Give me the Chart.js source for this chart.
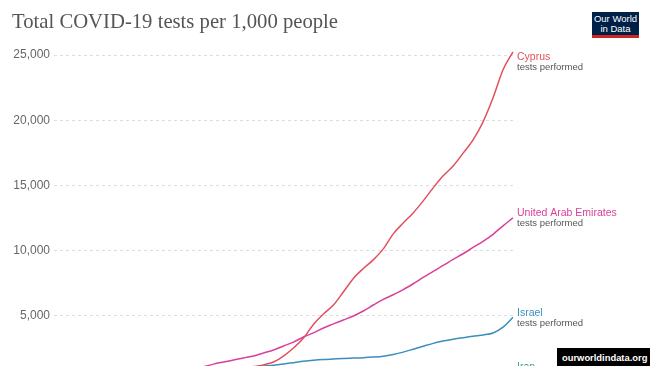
<!DOCTYPE html>
<html><head><meta charset="utf-8">
<script src="https://cdn.jsdelivr.net/npm/chart.js@4"></script>
<style>
html,body{margin:0;padding:0;background:#fff;width:650px;height:366px;overflow:hidden;}
#wrap{position:relative;width:650px;height:366px;}
canvas{position:absolute;left:0;top:0;}
#title{position:absolute;left:12px;top:9px;font-family:"Liberation Serif",serif;font-size:20.7px;line-height:24px;color:#555;white-space:nowrap;}
#logo{position:absolute;left:592px;top:12px;width:47px;height:21px;padding-top:2px;background:#002147;border-bottom:3px solid #ce261e;color:#fff;font-family:"Liberation Sans",Arial,sans-serif;font-size:9.5px;line-height:9.5px;text-align:center;}
#wm{position:absolute;left:557px;top:348px;width:88px;height:19px;padding-left:5px;background:#000;color:#fff;font:bold 9.4px "Liberation Sans",Arial,sans-serif;line-height:19px;white-space:nowrap;}
</style></head>
<body><div id="wrap">
<canvas id="c" width="650" height="366"></canvas>
<div id="title">Total COVID-19 tests per 1,000 people</div>
<div id="logo">Our World<br>in Data</div>
<div id="wm">ourworldindata.org</div>
</div>
<script>
const dates = ["2020-03-01","2020-03-16","2020-04-01","2020-04-16","2020-05-01","2020-05-16","2020-06-01","2020-06-16","2020-07-01","2020-07-16","2020-08-01","2020-08-16","2020-09-01","2020-09-16","2020-10-01","2020-10-16","2020-11-01","2020-11-16","2020-12-01","2020-12-16","2021-01-01","2021-01-16","2021-02-01","2021-02-16","2021-03-01","2021-03-16","2021-04-01","2021-04-16","2021-05-01","2021-05-16","2021-06-01","2021-06-16","2021-07-01","2021-07-16","2021-08-01","2021-08-16","2021-09-01","2021-09-16","2021-10-01","2021-10-16","2021-11-01","2021-11-16","2021-12-01","2021-12-16","2022-01-01","2022-01-16","2022-02-01"];
const cyprus = [0,5,15,30,50,75,100,130,160,195,235,280,330,390,460,540,630,730,840,960,1120,1250,1470,1930,2545,3310,4350,5150,5840,6840,7880,8640,9300,10140,11290,12130,12900,13820,14820,15740,16500,17480,18500,19880,21720,23870,25250];
const uae = [0,3,10,25,45,75,115,170,235,310,400,500,620,760,920,1110,1310,1470,1625,1780,1930,2160,2390,2700,3000,3390,3700,4080,4390,4690,5000,5380,5840,6270,6630,7020,7470,7950,8420,8870,9330,9770,10250,10720,11260,11910,12520];
const israel = [0,2,8,20,40,65,95,130,170,215,265,320,385,460,550,650,750,850,950,1040,1110,1160,1230,1320,1420,1520,1600,1660,1700,1740,1770,1800,1850,1920,2050,2230,2450,2680,2900,3080,3220,3330,3450,3550,3700,4150,4900];
const iran = [0,1,3,6,10,15,20,26,33,40,48,56,65,75,85,96,108,120,133,147,161,176,192,209,227,246,266,287,309,332,356,385,415,445,475,505,535,563,590,615,638,660,680,698,715,733,750];
const seriesNames = ["Cyprus","United Arab Emirates","Israel","Iran"];
const seriesColors = ["#e2505f","#d9409a","#3a8fbc","#4a9a92"];
const seriesNote = "tests performed";
const yTicks = [5000,10000,15000,20000,25000];

const labelPlugin = {
  id:'endLabels',
  afterDatasetsDraw(chart){
    const ctx = chart.ctx, ca = chart.chartArea;
    ctx.save();
    ctx.textBaseline = 'middle';
    ctx.textAlign = 'left';
    chart.data.datasets.forEach((ds,i)=>{
      const meta = chart.getDatasetMeta(i);
      const last = meta.data[meta.data.length-1];
      const ny = Math.max(last.y - 4.5, ca.top + 15);
      ctx.font = '10.5px "Liberation Sans", Arial, sans-serif';
      ctx.fillStyle = seriesColors[i];
      ctx.fillText(seriesNames[i], ca.right + 4, ny);
      ctx.font = '9.5px "Liberation Sans", Arial, sans-serif';
      ctx.fillStyle = '#555';
      ctx.fillText(seriesNote, ca.right + 4, ny + 10.5);
    });
    ctx.restore();
  }
};

const allSeries = [cyprus, uae, israel, iran];
new Chart(document.getElementById('c'), {
  type:'line',
  data:{
    labels: dates,
    datasets: allSeries.map((d,i)=>({label:seriesNames[i], data:d, borderColor:seriesColors[i], backgroundColor:seriesColors[i], borderWidth:1.5, pointRadius:0, cubicInterpolationMode:'monotone', fill:false}))
  },
  options:{
    responsive:false, animation:false, devicePixelRatio:1,
    layout:{autoPadding:false, padding:{left:0,right:137,top:42,bottom:0}},
    plugins:{legend:{display:false}, tooltip:{enabled:false}, title:{display:false}},
    scales:{
      x:{display:false, offset:false},
      y:{
        min:1165, max:26000,
        afterBuildTicks:s=>{ s.ticks = yTicks.map(v=>({value:v})); },
        afterFit:s=>{ s.width = 54; s.paddingTop = 0; s.paddingBottom = 0; },
        ticks:{color:'#666', padding:4, font:{family:'"Liberation Sans", Arial, sans-serif', size:12}, callback:v=>v.toLocaleString('en-US')},
        grid:{color:'#dddddd', drawTicks:false, lineWidth:1},
        border:{display:false, dash:[3,3]}
      }
    }
  },
  plugins:[labelPlugin]
});
</script>
</body></html>
